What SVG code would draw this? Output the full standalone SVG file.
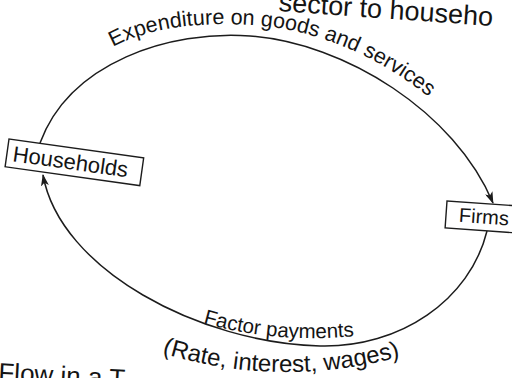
<svg xmlns="http://www.w3.org/2000/svg" width="512" height="378" viewBox="0 0 512 378">
  <style>
    .flow { fill: none; stroke: #1c1c1c; stroke-width: 1.5; }
    .box { fill: #fff; stroke: #1c1c1c; stroke-width: 1.4; }
    .lbl { font-family: "Liberation Sans", Arial, sans-serif; fill: #141414; }
  </style>
  <defs>
    <marker id="arrow" viewBox="0 0 12 8" refX="11" refY="4" markerWidth="12" markerHeight="8" markerUnits="userSpaceOnUse" orient="auto">
      <path d="M0,0 L12,4 L0,8 L3,4 z" fill="#1c1c1c"/>
    </marker>
    <!-- baselines for the curved labels -->
    <path id="topText" d="M113,47 C 150,27 200,22 250,25 C 330,29 405,70 462,126"/>
    <path id="factorText" d="M203,323 Q 280,345 364,335"/>
    <path id="rateText" d="M162,353 Q 285,391 414,353"/>
  </defs>
  <rect width="512" height="378" fill="#fff"/>

  <!-- caption fragments at the page edges -->
  <text class="lbl" font-size="27" x="278" y="18" transform="rotate(4 378 18)">sector to househo</text>
  <text class="lbl" font-size="26" x="-2" y="381" transform="rotate(3 0 381)">Flow in a T</text>

  <g id="connectors">
    <path class="flow" d="M40,143 C 70,62 170,30 250,36 C 345,43 455,112 493,203" marker-end="url(#arrow)"/>
    <path class="flow" d="M487,231 C 470,300 400,348 320,346 C 200,343 60,270 43,175" marker-end="url(#arrow)"/>
  </g>

  <g id="households">
    <g transform="translate(9,139) rotate(8)">
      <rect class="box" x="0" y="0" width="136" height="28"/>
      <text class="lbl" font-size="22" x="6" y="21.5">Households</text>
    </g>
  </g>

  <g id="firms">
    <g transform="translate(447,201) rotate(4)">
      <rect class="box" x="0" y="0" width="90" height="27"/>
      <text class="lbl" font-size="20" x="13" y="20">Firms</text>
    </g>
  </g>

  <g id="labels">
    <text class="lbl" font-size="21.5"><textPath href="#topText">Expenditure on goods and services</textPath></text>
    <text class="lbl" font-size="20.5"><textPath href="#factorText">Factor payments</textPath></text>
    <text class="lbl" font-size="24"><textPath href="#rateText">(Rate, interest, wages)</textPath></text>
  </g>
</svg>
